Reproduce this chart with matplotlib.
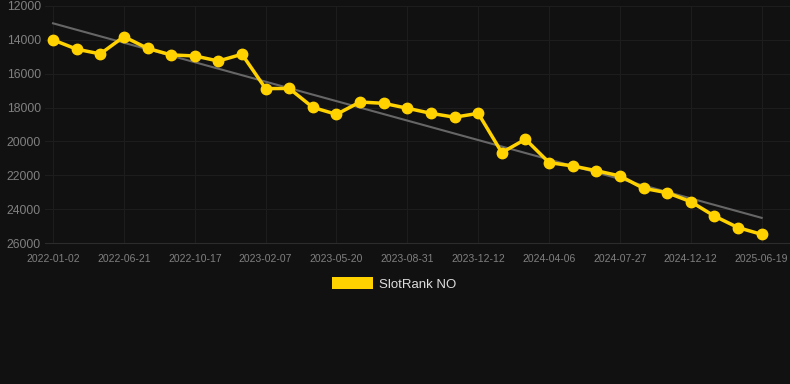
import matplotlib.pyplot as plt
import numpy as np
from matplotlib.patches import Patch

plt.rcParams['font.family'] = ['Liberation Sans', 'DejaVu Sans']

# --- data (rank per snapshot) ---
ranks = [14000, 14550, 14830, 13810, 14500, 14890, 14950, 15250, 14850, 16880,
         16870, 17990, 18400, 17670, 17750, 18040, 18340, 18570, 18340, 20660,
         19870, 21250, 21450, 21730, 22040, 22770, 23030, 23560, 24410, 25090,
         25490]
tick_labels = ['2022-01-02', '2022-06-21', '2022-10-17', '2023-02-07', '2023-05-20',
               '2023-08-31', '2023-12-12', '2024-04-06', '2024-07-27', '2024-12-12',
               '2025-06-19']
y_ticks = [12000, 14000, 16000, 18000, 20000, 22000, 24000, 26000]

bg = '#111111'
gold = '#FFD200'

x = np.arange(len(ranks))
# linear trend line
k, b = np.polyfit(x, ranks, 1)

fig = plt.figure(figsize=(7.9, 3.84), dpi=100, facecolor=bg)
ax = fig.add_axes([45 / 790, 1 - 243 / 384, 745 / 790, 237 / 384], facecolor=bg)

ax.plot(x, k * x + b, color='#666666', lw=1.5, zorder=2)
ax.plot(x, ranks, color=gold, lw=2.5, marker='o', ms=7.5, zorder=3)

ax.set_ylim(26000, 12000)
ax.set_xlim(-0.34, 31.2)
ax.set_yticks(y_ticks)
ax.set_yticklabels([str(v) for v in y_ticks])
ax.set_xticks(x[::3])
ax.set_xticklabels(tick_labels)

ax.grid(True, color='#1d1d1d', lw=0.8)
ax.set_axisbelow(True)
for s in ax.spines.values():
    s.set_visible(False)
ax.spines['bottom'].set_visible(True)
ax.spines['bottom'].set_color('#2c2c2c')
ax.spines['bottom'].set_linewidth(0.8)
ax.tick_params(axis='y', colors='#808080', labelsize=8.7, length=0, pad=3)
ax.tick_params(axis='x', colors='#808080', labelsize=7.5, length=0, pad=8)

leg = fig.legend(handles=[Patch(facecolor=gold, label='SlotRank NO')],
                 loc='center', bbox_to_anchor=(394 / 790, 1 - 284 / 384),
                 frameon=False, handlelength=3.1, handleheight=0.95,
                 fontsize=9.5, labelcolor='#dddddd', handletextpad=0.5)

fig.savefig('out.png', dpi=100, facecolor=bg)
